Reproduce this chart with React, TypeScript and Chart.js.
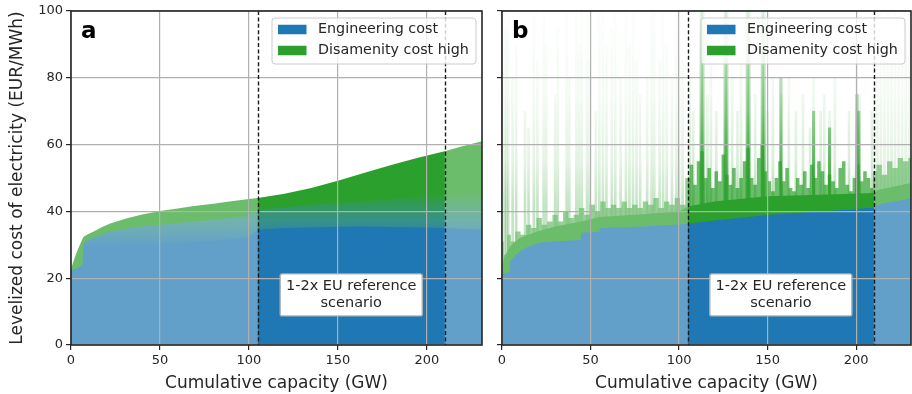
import { useEffect, useRef } from "react";
import { Chart, registerables } from "chart.js";

Chart.register(...registerables);

const FONT = "'DejaVu Sans', 'Liberation Sans', sans-serif";
Chart.defaults.font.family = FONT;
Chart.defaults.color = "#262626";

// ---------- shared ----------
const xTicks = [0, 50, 100, 150, 200];
const yTicks = [0, 20, 40, 60, 80, 100];
const xMax = 231;
const refStart = 105;
const refEnd = 210;
const annotationY = 15;
const legendLabels = ["Engineering cost", "Disamenity cost high"];
const annotationLines = ["1-2x EU reference", "scenario"];
const xTitle = "Cumulative capacity (GW)";
const yTitle = "Levelized cost of electricity (EUR/MWh)";

// ---------- panel a (sorted by total cost) ----------
const capA = [0, 1, 3, 5, 6.5, 7, 8, 10, 12.5, 17, 22, 31, 40, 50, 60, 69, 80, 88, 100, 105, 120, 135, 150, 165, 180, 195, 210, 220, 231];
const engineeringA = [21.5, 21.5, 21.7, 21.8, 22, 27.5, 28.5, 29, 29.2, 29.4, 29.6, 29.8, 30, 30.2, 30.5, 30.8, 31.2, 31.6, 32.2, 34.5, 35, 35.2, 35.4, 35.5, 35.3, 35.2, 35, 34.8, 34.5];
const transitionA = [22, 22.5, 23, 23.5, 24, 30, 31, 31.5, 32, 33, 34, 34.8, 35.5, 36, 36.5, 37, 37.5, 38, 38.8, 40.5, 41.2, 42, 42.5, 43, 43.8, 44.5, 45, 45.5, 46];
const totalA = [22.5, 24.5, 27.5, 30, 31.8, 32.3, 32.7, 33.3, 33.9, 35.2, 36.4, 37.9, 39.1, 40.1, 40.9, 41.6, 42.3, 42.9, 43.7, 44.0, 45.3, 47.0, 49.2, 51.6, 53.9, 56.1, 58.0, 59.5, 61.0];

// ---------- panel b (sorted by engineering cost) ----------
const capEngB = [0, 2, 4.4, 4.6, 7, 10, 15, 21, 30, 44.4, 44.6, 55, 55.4, 80, 104, 120, 150, 175, 198, 210, 213, 217, 225, 231];
const engineeringB = [21.5, 21.5, 22, 25, 26.5, 28, 29.5, 30.6, 31, 31.4, 33.6, 33.9, 35, 35.5, 36.2, 37.3, 38.9, 39.8, 40.6, 41.2, 42, 42.6, 43.3, 44];

const capCoreB = [0, 2, 4.5, 10, 20, 30, 45, 55, 75, 100, 105, 120, 150, 180, 210, 213, 231];
const disamenityCoreB = [24, 27, 29.5, 32, 34, 35.5, 37, 38.3, 39, 40, 41.5, 43, 44.5, 45, 45.5, 46.5, 48.5];

const capDenseB = [0, 2, 4, 6, 9, 12, 15, 18, 21, 24, 27, 30, 33, 36, 39, 42, 45, 48, 51, 54, 57, 60, 63, 66, 69, 72, 75, 78, 81, 84, 87, 90, 93, 96, 99, 102,
  105, 107, 109, 111, 113, 115, 117, 119, 121, 123, 125, 127, 129, 131, 133, 135, 137, 139, 141, 143, 145, 147, 149, 151, 153, 155, 157, 159, 161, 163, 165, 167, 169, 171, 173, 175, 177, 179, 181, 183, 185, 187, 189, 191, 193, 195, 197, 199, 201, 203, 205, 207, 209,
  210, 213, 216, 219, 222, 225, 228, 231];
const disamenityDenseB = [31, 27, 33, 31, 34, 33, 36, 35, 38, 36, 37, 39, 37, 40, 38, 39, 41, 39, 42, 40, 43, 41, 42, 41, 43, 41, 42, 41, 43, 42, 44, 41, 43, 42, 44, 42,
  50, 54, 48, 55, 58, 50, 53, 47, 52, 49, 57, 51, 48, 53, 47, 50, 55, 59, 50, 48, 56, 60, 52, 49, 46, 50, 55, 49, 53, 47, 46, 50, 48, 52, 47, 54, 50, 55, 52, 48, 51, 49, 47, 53, 55, 48, 46, 50, 54, 49, 52, 50, 47,
  52, 54, 51, 55, 53, 56, 55, 56];

const capFaintB = [1.5, 2.5, 3.5, 6, 8, 13, 15, 18, 20, 23.5, 25, 30, 31.5, 36.5, 38, 42, 43.5, 45, 48, 49.5, 53, 55, 57, 59, 62, 64, 67, 70, 72, 74, 76, 78, 82, 84.5, 86, 89, 91, 93, 96, 98.5, 100, 102, 106, 108, 116, 118, 121, 130, 133, 135, 143, 150, 153, 158, 162, 166, 170, 174, 176, 180, 182, 185, 188, 196, 200, 202, 209, 212, 214, 216, 218, 220, 222, 224, 226, 228, 230];
const faintSpikeB = [100, 95, 100, 80, 90, 70, 65, 100, 85, 100, 90, 75, 95, 100, 80, 100, 90, 100, 100, 85, 70, 100, 100, 90, 95, 100, 80, 100, 90, 100, 85, 75, 80, 100, 100, 85, 100, 90, 80, 100, 100, 85, 80, 70, 75, 85, 70, 80, 70, 85, 75, 70, 80, 75, 80, 70, 75, 65, 80, 70, 75, 70, 80, 70, 85, 75, 70, 80, 100, 90, 100, 85, 100, 90, 100, 95, 100];

const capStrongB = [112.5, 113.5, 126, 127, 138.5, 139.5, 147, 148, 157.5, 176, 185, 200.5, 201.5];
const strongSpikeB = [100, 100, 100, 100, 100, 100, 100, 100, 80, 70, 65, 75, 70];

// ---------- styles ----------
const BLUE = "#1f77b4";
const GREEN = "#2ca02c";
const INK = "#262626";
const GRID = "#b0b0b0";
const MIX_STOPS: [number, string][] = [[0, BLUE], [29, BLUE], [37, "rgb(55,145,140)"], [46, GREEN], [100, GREEN]];
const FAINT_STOPS: [number, string][] = [[0, "rgba(44,160,44,0.45)"], [42, "rgba(44,160,44,0.4)"], [55, "rgba(44,160,44,0.18)"], [75, "rgba(44,160,44,0.07)"], [100, "rgba(44,160,44,0.02)"]];
const STRONG_STOPS: [number, string][] = [[0, "rgba(44,160,44,0.9)"], [50, "rgba(44,160,44,0.8)"], [70, "rgba(44,160,44,0.45)"], [100, "rgba(44,160,44,0.1)"]];

const pts = (xs: number[], ys: number[]) => xs.map((x, i) => ({ x, y: ys[i] }));

function vGrad(chart: any, stops: [number, string][]) {
  const { ctx, scales, chartArea } = chart;
  if (!chartArea || !scales.y) return stops[stops.length - 1][1];
  const y = scales.y;
  const g = ctx.createLinearGradient(0, y.getPixelForValue(0), 0, y.getPixelForValue(100));
  for (const [v, c] of stops) g.addColorStop(v / 100, c);
  return g;
}

function decor(panel: string) {
  return {
    id: "decor" + panel,
    afterDatasetsDraw(chart: any) {
      const { ctx, chartArea: a, scales } = chart;
      const x1 = scales.x.getPixelForValue(refStart);
      const x2 = scales.x.getPixelForValue(refEnd);
      ctx.save();
      ctx.fillStyle = "rgba(255,255,255,0.3)";
      ctx.fillRect(a.left, a.top, x1 - a.left, a.bottom - a.top);
      ctx.fillRect(x2, a.top, a.right - x2, a.bottom - a.top);
      ctx.restore();
    },
    afterDraw(chart: any) {
      const { ctx, chartArea: a, scales } = chart;
      const xs = scales.x;
      const ys = scales.y;
      ctx.save();
      // dashed reference lines
      ctx.strokeStyle = "#1a1a1a";
      ctx.lineWidth = 1.4;
      ctx.setLineDash([4, 2.4]);
      for (const v of [refStart, refEnd]) {
        const px = Math.round(xs.getPixelForValue(v)) + 0.5;
        ctx.beginPath();
        ctx.moveTo(px, a.top);
        ctx.lineTo(px, a.bottom);
        ctx.stroke();
      }
      ctx.setLineDash([]);
      // frame
      ctx.strokeStyle = INK;
      ctx.lineWidth = 1.6;
      ctx.strokeRect(a.left, a.top, a.right - a.left, a.bottom - a.top);
      // legend
      const lw = 204, lh = 46;
      const lx = a.right - 6 - lw, ly = a.top + 7;
      ctx.beginPath();
      (ctx as any).roundRect(lx, ly, lw, lh, 3);
      ctx.fillStyle = "rgba(255,255,255,0.8)";
      ctx.fill();
      ctx.strokeStyle = "#cccccc";
      ctx.lineWidth = 1;
      ctx.stroke();
      const rows = [ly + 11.5, ly + 32.5];
      const colors = [BLUE, GREEN];
      ctx.font = `14.3px ${FONT}`;
      ctx.textBaseline = "middle";
      ctx.textAlign = "left";
      rows.forEach((ry, i) => {
        ctx.fillStyle = colors[i];
        ctx.fillRect(lx + 6, ry - 4.75, 28.5, 9.5);
        ctx.fillStyle = INK;
        ctx.fillText(legendLabels[i], lx + 46, ry);
      });
      // annotation box
      const cx = xs.getPixelForValue((refStart + refEnd) / 2);
      const cy = ys.getPixelForValue(annotationY);
      const bw = 142, bh = 42;
      ctx.beginPath();
      (ctx as any).roundRect(cx - bw / 2, cy - bh / 2, bw, bh, 2);
      ctx.fillStyle = "#ffffff";
      ctx.fill();
      ctx.strokeStyle = "#b4b4b4";
      ctx.lineWidth = 1.4;
      ctx.stroke();
      ctx.fillStyle = INK;
      ctx.font = `14.5px ${FONT}`;
      ctx.textAlign = "center";
      ctx.fillText(annotationLines[0], cx, cy - 8.5);
      ctx.fillText(annotationLines[1], cx, cy + 8);
      // panel letter
      ctx.font = `bold 23px ${FONT}`;
      ctx.textAlign = "left";
      ctx.textBaseline = "alphabetic";
      ctx.fillStyle = "#000";
      ctx.fillText(panel, a.left + 10, a.top + 27);
      ctx.restore();
    },
  };
}

function scalesFor(showY: boolean) {
  return {
    x: {
      type: "linear",
      min: 0,
      max: xMax,
      offset: false,
      z: 1,
      afterBuildTicks: (s: any) => { s.ticks = xTicks.map((v) => ({ value: v })); },
      afterFit: (s: any) => { s.height = 49; },
      grid: { z: 1, color: GRID, lineWidth: 1.2, tickColor: INK, tickLength: 5, tickWidth: 1.2, offset: false },
      border: { display: false },
      ticks: { color: INK, font: { size: 13 }, padding: 3, maxRotation: 0, autoSkip: false },
      title: { display: true, text: xTitle, color: INK, font: { size: 17 }, padding: { top: 0, bottom: 0.5 } },
    },
    y: {
      type: "linear",
      min: 0,
      max: 100,
      z: 1,
      afterBuildTicks: (s: any) => { s.ticks = yTicks.map((v) => ({ value: v })); },
      afterFit: (s: any) => { s.width = showY ? 71 : 10; },
      grid: { z: 1, color: GRID, lineWidth: 1.2, tickColor: INK, tickLength: 5, tickWidth: 1.2 },
      border: { display: false },
      ticks: { display: showY, color: INK, font: { size: 13 }, padding: 3 },
      title: { display: showY, text: yTitle, color: INK, font: { size: 17 }, padding: { top: 7, bottom: 0 } },
    },
  };
}

function baseOptions(showY: boolean, rightPad: number) {
  return {
    responsive: false,
    animation: false,
    devicePixelRatio: 1,
    layout: { padding: { top: 11, right: rightPad, left: 0, bottom: 0 }, autoPadding: false },
    plugins: { legend: { display: false }, tooltip: { enabled: false } },
    elements: { point: { radius: 0 }, line: { borderWidth: 0, tension: 0, borderColor: "rgba(0,0,0,0)" } },
    scales: scalesFor(showY),
  };
}

const lineDs = (data: any, bg: any, extra: any = {}) => ({
  type: "line",
  data,
  backgroundColor: bg,
  borderColor: "rgba(0,0,0,0)",
  borderWidth: 0,
  pointRadius: 0,
  fill: "origin",
  ...extra,
});

function configA(): any {
  return {
    type: "line",
    data: {
      datasets: [
        lineDs(pts(capA, engineeringA), BLUE, { label: legendLabels[0] }),
        lineDs(pts(capA, transitionA), (c: any) => vGrad(c.chart, MIX_STOPS), { label: "transition" }),
        lineDs(pts(capA, totalA), GREEN, { label: legendLabels[1] }),
      ],
    },
    options: baseOptions(true, 10),
    plugins: [decor("a")],
  };
}

function configB(): any {
  return {
    type: "line",
    data: {
      datasets: [
        lineDs(pts(capEngB, engineeringB), BLUE, { label: legendLabels[0] }),
        lineDs(pts(capCoreB, disamenityCoreB), GREEN, { label: legendLabels[1] }),
        lineDs(pts(capDenseB, disamenityDenseB), "rgba(44,160,44,0.7)", { label: "dense", stepped: "middle" }),
        {
          type: "bar",
          label: "strong",
          data: pts(capStrongB, strongSpikeB),
          backgroundColor: (c: any) => vGrad(c.chart, STRONG_STOPS),
          barThickness: 2.5,
          grouped: false,
          borderWidth: 0,
        },
        {
          type: "bar",
          label: "faint",
          data: pts(capFaintB, faintSpikeB),
          backgroundColor: (c: any) => vGrad(c.chart, FAINT_STOPS),
          barThickness: 2,
          grouped: false,
          borderWidth: 0,
        },
      ],
    },
    options: baseOptions(false, 1),
    plugins: [decor("b")],
  };
}

export default function App() {
  const refA = useRef<HTMLCanvasElement>(null);
  const refB = useRef<HTMLCanvasElement>(null);
  useEffect(() => {
    const a = new Chart(refA.current as HTMLCanvasElement, configA());
    const b = new Chart(refB.current as HTMLCanvasElement, configB());
    return () => {
      a.destroy();
      b.destroy();
    };
  }, []);
  return (
    <div style={{ position: "fixed", left: 0, top: 0, width: 912, height: 394, background: "#fff", overflow: "hidden" }}>
      <canvas ref={refA} width={492} height={394} style={{ position: "absolute", left: 0, top: 0 }} />
      <canvas ref={refB} width={420} height={394} style={{ position: "absolute", left: 492, top: 0 }} />
    </div>
  );
}
